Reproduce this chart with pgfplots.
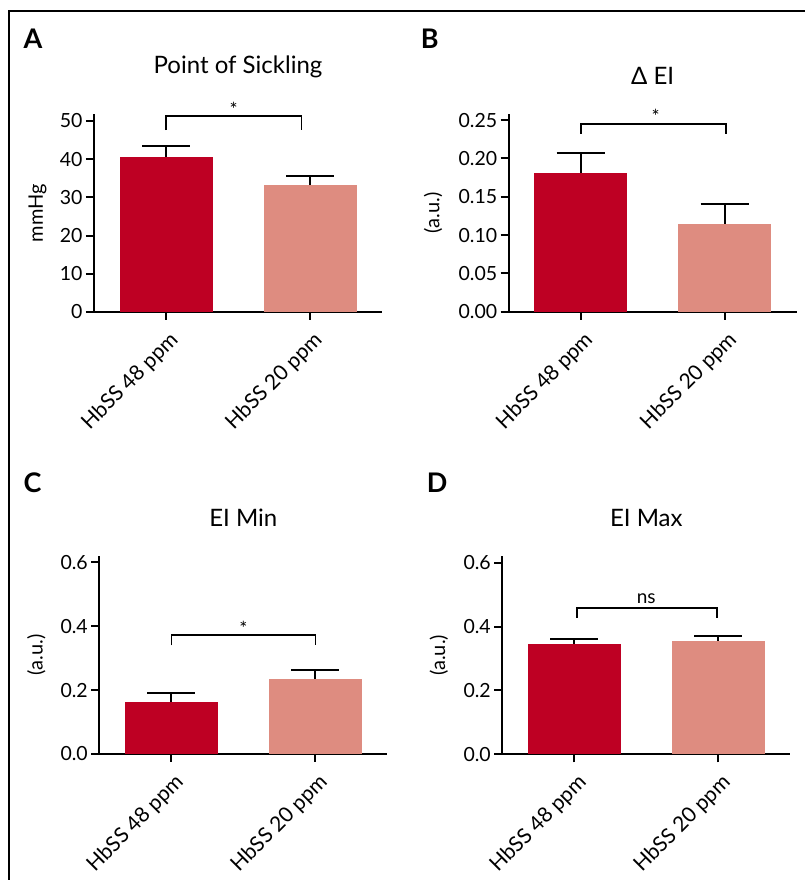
\documentclass[border=0pt]{standalone}
\usepackage{fontspec}
\setmainfont{Lato}
\usepackage{pgfplots}
\pgfplotsset{compat=1.18}
\definecolor{darkred}{HTML}{BE0023}
\definecolor{salmon}{HTML}{DE8C80}
\pgfplotsset{
 panel/.style={
  scale only axis, width=288pt, height=198pt, anchor=south west,
  xmin=-0.5, xmax=1.5, ymin=0,
  axis lines=left, axis line style={-, line width=2.2pt},
  xtick={0,1}, xticklabels={HbSS 48 ppm, HbSS 20 ppm},
  tick align=outside, major tick length=8pt,
  tick style={black, line width=2pt},
  /pgf/number format/assume math mode=true,
  tick label style={font=\fontsize{19.5}{22}\selectfont},
  xticklabel style={font=\fontsize{21}{24}\selectfont, inner sep=0pt, xshift=2pt, yshift=-10pt, rotate=45, anchor=north east},
  label style={font=\fontsize{20}{22}\selectfont},
  clip=false,
 },
 bars/.style={ybar, bar width=93pt, bar shift=0pt, draw=none,
  error bars/.cd, y dir=plus, y explicit, error mark=|,
  error bar style={draw=black, line width=2pt},
  error mark options={draw=black, line width=2pt, mark size=24pt}},
}
\begin{document}
\begin{tikzpicture}[x=1pt,y=1pt]
\useasboundingbox (0,0) rectangle (805,880);
\draw[line width=2pt] (8.5,0) -- (8.5,869) -- (805,869);
% Panel A
\begin{axis}[panel, at={(94pt,568pt)}, ymax=51.8, ytick={0,10,20,30,40,50},
  ylabel={mmHg}, ylabel style={at={(axis description cs:-0.196,0.5)}, anchor=center}]
\addplot[fill=darkred, bars] coordinates {(0,40.6) += (0,2.7)};
\addplot[fill=salmon, bars] coordinates {(1,33.2) += (0,2.4)};
\draw[line width=1.6pt] (axis cs:0,47.6) -- (axis cs:0,51.2) -- (axis cs:0.94,51.2) -- (axis cs:0.94,47.6);
\node[anchor=base, inner sep=0pt, font=\fontsize{19}{19}\selectfont] at (axis cs:0.47,51.2) {*};
\node[anchor=base, font=\fontsize{24}{26}\selectfont] at (axis description cs:0.5,1.202) {Point of Sickling};
\end{axis}
% Panel B
\begin{axis}[panel, at={(508.7pt,568.3pt)}, ymax=0.2584, ytick={0,0.05,0.1,0.15,0.2,0.25},
  yticklabel style={/pgf/number format/.cd, fixed, fixed zerofill, precision=2},
  ylabel={(a.u.)}, ylabel style={at={(axis description cs:-0.263,0.5)}, anchor=center}]
\addplot[fill=darkred, bars] coordinates {(0,0.1815) += (0,0.0253)};
\addplot[fill=salmon, bars] coordinates {(1,0.1148) += (0,0.0252)};
\draw[line width=1.6pt] (axis cs:0,0.232) -- (axis cs:0,0.2453) -- (axis cs:1.01,0.2453) -- (axis cs:1.01,0.232);
\node[anchor=base, inner sep=0pt, font=\fontsize{19}{19}\selectfont] at (axis cs:0.52,0.2453) {*};
\node[anchor=base, font=\fontsize{24}{26}\selectfont] at (axis description cs:0.5,1.148) {Δ EI};
\end{axis}
% Panel C
\begin{axis}[panel, at={(99.3pt,126pt)}, ymax=0.6198, ytick={0,0.2,0.4,0.6},
  yticklabel style={/pgf/number format/.cd, fixed, fixed zerofill, precision=1},
  ylabel={(a.u.)}, ylabel style={at={(axis description cs:-0.219,0.5)}, anchor=center}]
\addplot[fill=darkred, bars] coordinates {(0,0.163) += (0,0.028)};
\addplot[fill=salmon, bars] coordinates {(1,0.2356) += (0,0.026)};
\draw[line width=1.6pt] (axis cs:0,0.340) -- (axis cs:0,0.3717) -- (axis cs:1.0,0.3717) -- (axis cs:1.0,0.340);
\node[anchor=base, inner sep=0pt, font=\fontsize{19}{19}\selectfont] at (axis cs:0.5,0.3717) {*};
\node[anchor=base, font=\fontsize{24}{26}\selectfont] at (axis description cs:0.5,1.149) {EI Min};
\end{axis}
% Panel D
\begin{axis}[panel, at={(502.3pt,125.7pt)}, ymax=0.62, ytick={0,0.2,0.4,0.6},
  yticklabel style={/pgf/number format/.cd, fixed, fixed zerofill, precision=1},
  ylabel={(a.u.)}, ylabel style={at={(axis description cs:-0.22,0.5)}, anchor=center}]
\addplot[fill=darkred, bars] coordinates {(0,0.346) += (0,0.015)};
\addplot[fill=salmon, bars] coordinates {(1,0.355) += (0,0.016)};
\draw[line width=1.6pt] (axis cs:0.02,0.428) -- (axis cs:0.02,0.458) -- (axis cs:0.99,0.458) -- (axis cs:0.99,0.428);
\node[anchor=base, inner sep=0pt, yshift=5pt, font=\fontsize{19}{19}\selectfont] at (axis cs:0.5,0.458) {ns};
\node[anchor=base, font=\fontsize{24}{26}\selectfont] at (axis description cs:0.5,1.149) {EI Max};
\end{axis}
% panel letters
\node[anchor=base west, inner sep=0pt, font=\bfseries\fontsize{27}{27}\selectfont] at (23.3,831.7) {A};
\node[anchor=base west, inner sep=0pt, font=\bfseries\fontsize{27}{27}\selectfont] at (420.7,831) {B};
\node[anchor=base west, inner sep=0pt, font=\bfseries\fontsize{27}{27}\selectfont] at (23.3,387.7) {C};
\node[anchor=base west, inner sep=0pt, font=\bfseries\fontsize{27}{27}\selectfont] at (426.7,387.7) {D};
\end{tikzpicture}
\end{document}
